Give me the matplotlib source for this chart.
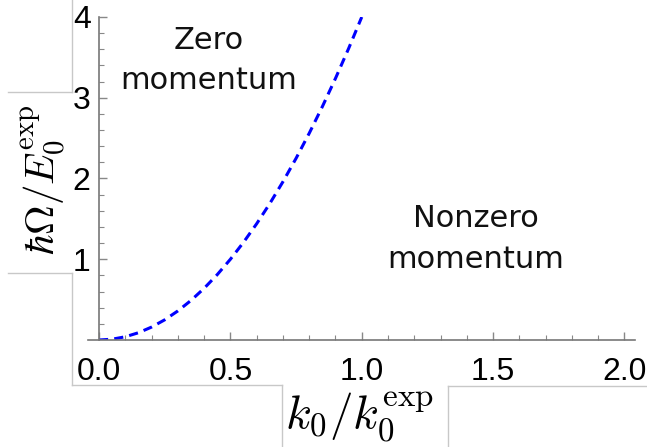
import matplotlib.pyplot as plt
from matplotlib.lines import Line2D

# boundary curve
k = [0.0, 0.05, 0.1, 0.15, 0.2, 0.25, 0.3, 0.35, 0.4, 0.45, 0.5, 0.55, 0.6,
     0.65, 0.7, 0.75, 0.8, 0.85, 0.9, 0.95, 1.0]
omega = [0.0, 0.01, 0.04, 0.09, 0.16, 0.25, 0.36, 0.49, 0.64, 0.81, 1.0, 1.21,
         1.44, 1.69, 1.96, 2.25, 2.56, 2.89, 3.24, 3.61, 4.0]

xticks = [0.0, 0.5, 1.0, 1.5, 2.0]
xtick_labels = ['0.0', '0.5', '1.0', '1.5', '2.0']
yticks = [1, 2, 3, 4]
ytick_labels = ['1', '2', '3', '4']

plt.rcParams['mathtext.fontset'] = 'cm'

fig = plt.figure(figsize=(6.47, 4.47), dpi=100)
W, H = 647, 447
ax = fig.add_axes([88 / W, 107 / H, (635 - 88) / W, (340 - 17) / H])

ax.plot(k, omega, color='#0000ff', linestyle=(0, (3, 2)), linewidth=2.2)

ax.set_xlim(-0.042, 2.04)
ax.set_ylim(0, 4)

ax.spines['top'].set_visible(False)
ax.spines['right'].set_visible(False)
ax.spines['left'].set_position(('data', 0))
ax.spines['left'].set_bounds(0, 4)
for s in ['left', 'bottom']:
    ax.spines[s].set_color('#777777')
    ax.spines[s].set_linewidth(1.2)

ax.set_xticks(xticks)
ax.set_xticklabels(xtick_labels)
ax.set_yticks(yticks)
ax.set_yticklabels(ytick_labels)
ax.set_xticks([i / 10 for i in range(1, 21)], minor=True)
ax.set_yticks([i / 5 for i in range(1, 20)], minor=True)
ax.tick_params(which='both', direction='in', color='#888888')
ax.tick_params(which='major', length=6, width=1)
ax.tick_params(which='minor', length=3.5, width=0.8)
ax.tick_params(axis='x', which='major', pad=12, labelsize=23)
ax.tick_params(axis='y', which='major', pad=6, labelsize=23)
for lab in ax.get_xticklabels() + ax.get_yticklabels():
    lab.set_family('Liberation Sans')

ax.text(0.416, 3.46, 'Zero\nmomentum', ha='center', va='center',
        fontsize=22, family='DejaVu Sans', linespacing=1.5, color='#111111')
ax.text(1.435, 1.25, 'Nonzero\nmomentum', ha='center', va='center',
        fontsize=22, family='DejaVu Sans', linespacing=1.5, color='#111111')

fig.text(44 / W, 1 - 180 / H, r'$\hbar\Omega/E_0^{\rm exp}$', rotation=90,
         ha='center', va='center', fontsize=29.5)
fig.text(360 / W, 1 - 416 / H, r'$k_0/k_0^{\rm exp}$',
         ha='center', va='center', fontsize=34)

# outlines of the pasted label boxes
box_lines = [
    [(72, 0), (72, 92)], [(8, 92), (72, 92)],
    [(8, 273), (72, 273)], [(72, 273), (72, 385)],
    [(72, 385), (282, 385)], [(282, 385), (282, 447)],
    [(448, 386), (647, 386)], [(448, 386), (448, 447)],
]
for (x0, y0), (x1, y1) in box_lines:
    fig.add_artist(Line2D([x0 / W, x1 / W], [1 - y0 / H, 1 - y1 / H],
                          color='#c8c8c8', linewidth=1, zorder=0))

fig.savefig('out.png')
